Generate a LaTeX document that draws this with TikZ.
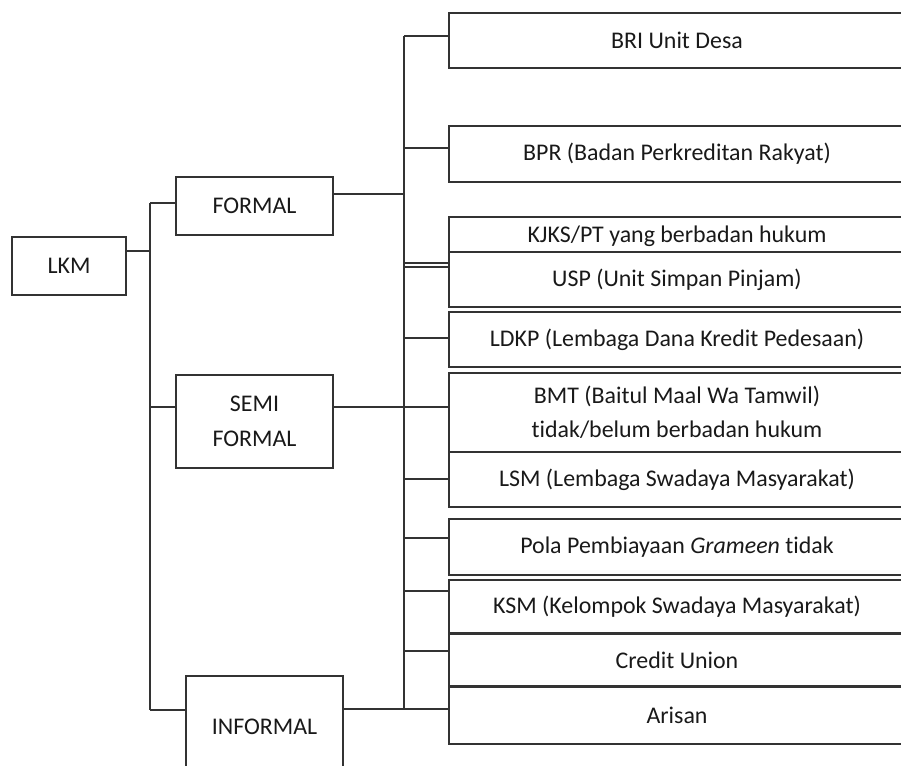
\documentclass[tikz,border=0pt]{standalone}
\usepackage{fontspec}
\setmainfont{Carlito}[Ligatures=NoCommon]
\usetikzlibrary{positioning}

\begin{document}
\begin{tikzpicture}[x=.025cm,y=-.025cm,line width=1.1pt,
    box/.style={draw=black!80,text=black!90,font=\fontsize{17}{24}\selectfont,align=center,inner sep=0pt},
    lbox/.style={box,minimum width=3.925cm},
    rbox/.style={box,minimum width=11.4cm},
    conn/.style={draw=black!80}]
 \clip (0,0) rectangle (901,766);
 %the left column
    \node[box,minimum width=2.85cm,minimum height=1.45cm] (lkm) at (69,266) {LKM};
    \node[lbox,minimum height=1.45cm] (formal) at (254.5,206) {FORMAL};
    \node[lbox,minimum height=2.325cm,font=\fontsize{17}{25}\selectfont] (semi) at (254.5,421.5) {SEMI\\FORMAL};
    \node[lbox,minimum height=2.55cm] (informal) at (264.5,727) {INFORMAL};
 %the right column
    \node[rbox,minimum height=1.375cm] (bri) at (677,40.5) {BRI Unit Desa};
    \node[rbox,minimum height=1.4cm] (bpr) at (677,154) {BPR (Badan Perkreditan Rakyat)};
    \node[rbox,minimum height=.875cm,text depth=0pt] (kjks) at (677,234.5) {KJKS/PT yang berbadan hukum};
    \node[rbox,minimum height=1.375cm] (usp) at (677,279.5) {USP (Unit Simpan Pinjam)};
    \node[rbox,minimum height=1.375cm] (ldkp) at (677,339.5) {LDKP (Lembaga Dana Kredit Pedesaan)};
    \node[rbox,minimum height=1.975cm] (bmt) at (677,412.5) {BMT (Baitul Maal Wa Tamwil)\\tidak/belum berbadan hukum};
    \node[rbox,minimum height=1.375cm] (lsm) at (677,479.5) {LSM (Lembaga Swadaya Masyarakat)};
    \node[rbox,minimum height=1.4cm] (pola) at (677,547) {Pola Pembiayaan \textit{Grameen} tidak};
    \node[rbox,minimum height=1.325cm] (ksm) at (677,606.5) {KSM (Kelompok Swadaya Masyarakat)};
    \node[rbox,minimum height=1.275cm,below=0pt of ksm] (cu) {Credit Union};
    \node[rbox,minimum height=1.425cm,below=0pt of cu] (arisan) {Arisan};
 %left trunk
    \coordinate (kt) at (150,203); \coordinate (kb) at (150,710);
    \coordinate (ka) at (150,251); \coordinate (ks) at (150,407);
    \draw[conn] (kt) -- (kb);
    \draw[conn] (ka -| lkm.east) -- (ka);
    \draw[conn] (kt) -- (kt -| formal.west);
    \draw[conn] (ks) -- (ks -| semi.west);
    \draw[conn] (kb) -- (kb -| informal.west);
 %right trunk
    \coordinate (ft) at (404,36); \coordinate (fb) at (404,709);
    \coordinate (fa) at (404,194); \coordinate (fs) at (404,407);
    \draw[conn] (ft) -- (fb);
    \draw[conn] (fa -| formal.east) -- (fa);
    \draw[conn] (fs -| semi.east) -- (fs -| bmt.west);
    \draw[conn] (fb -| informal.east) -- (fb -| arisan.west);
    \foreach \y/\n [count=\i] in {36/bri,148/bpr,263/usp,267/usp,338/ldkp,479/lsm,538/pola,591/ksm,651/cu}
      {\coordinate (j\i) at (404,\y); \draw[conn] (j\i) -- (j\i -| \n.west);}
\end{tikzpicture}
\end{document}
